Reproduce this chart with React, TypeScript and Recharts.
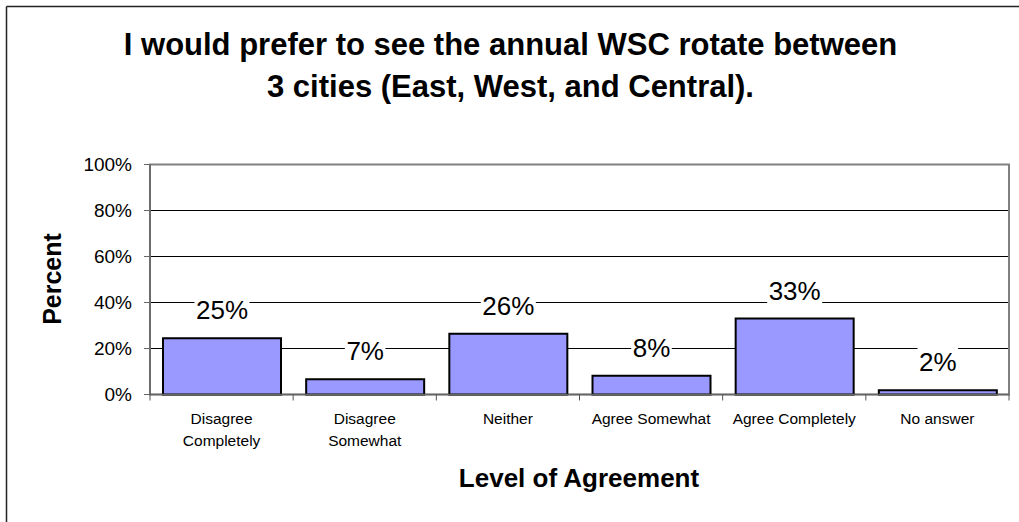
import React from 'react';
import { BarChart, Bar, XAxis, YAxis, CartesianGrid, ReferenceArea, LabelList } from 'recharts';

const categories = ['Disagree\nCompletely', 'Disagree\nSomewhat', 'Neither', 'Agree Somewhat', 'Agree Completely', 'No answer'];
const percentValues = [24.5, 6.6, 26.4, 8.2, 33.0, 1.8];
const yTicks = [0, 20, 40, 60, 80, 100];
const titleLines = ['I would prefer to see the annual WSC rotate between', '3 cities (East, West, and Central).'];
const xTitle = 'Level of Agreement';
const yTitle = 'Percent';

const data = categories.map((name, i) => ({ name, value: percentValues[i] }));

const FONT = 'Liberation Sans, Arial, Helvetica, sans-serif';
const W = 1019;
const H = 522;
const LEFT = 150;
const RIGHT = 10;
const PLOT_W = W - LEFT - RIGHT;
const HALF_BAND = PLOT_W / categories.length / 2;

const CatTick = (props: any) => {
  const { x, y, payload, index } = props;
  const lines = String(payload.value).split('\n');
  return (
    <g>
      <line x1={x - HALF_BAND} x2={x - HALF_BAND} y1={y} y2={y + 6} stroke="#555" strokeWidth={1} />
      {index === categories.length - 1 && (
        <line x1={x + HALF_BAND} x2={x + HALF_BAND} y1={y} y2={y + 6} stroke="#555" strokeWidth={1} />
      )}
      {lines.map((l, i) => (
        <text key={i} x={x} y={y + 29.5 + i * 22} textAnchor="middle" fontSize={15.5} fontFamily={FONT} fill="#000">
          {l}
        </text>
      ))}
    </g>
  );
};

const ValueLabel = (props: any) => {
  const { x, y, width, value } = props;
  const txt = `${Math.round(Number(value))}%`;
  const digits = txt.length - 1;
  const tw = (digits * 0.556 + 0.889) * 26 + 3;
  const cx = Number(x) + Number(width) / 2;
  const base = Number(y) - 19;
  return (
    <g>
      <rect x={cx - tw / 2} y={base - 24} width={tw} height={30} fill="#fff" />
      <text x={cx} y={base} textAnchor="middle" fontSize={26} fontFamily={FONT} fill="#000">
        {txt}
      </text>
    </g>
  );
};

export default function App() {
  return (
    <div style={{ position: 'absolute', left: 0, top: 0, width: W, height: H, background: '#fff', overflow: 'hidden' }}>
      <BarChart width={W} height={H} data={data} margin={{ top: 164.5, right: RIGHT, bottom: 0, left: 0 }}>
        <CartesianGrid vertical={false} stroke="#000" strokeWidth={1} />
        <ReferenceArea y1={0} y2={100} fill="none" stroke="#808080" strokeWidth={2} ifOverflow="visible" />
        <XAxis
          dataKey="name"
          height={127.5}
          interval={0}
          tickLine={false}
          tickSize={0}
          tickMargin={0}
          axisLine={{ stroke: '#666', strokeWidth: 1.5 }}
          tick={<CatTick />}
        />
        <YAxis
          domain={[0, 100]}
          ticks={yTicks}
          width={LEFT}
          tickFormatter={(v: number) => `${v}%`}
          tick={{ fontSize: 19, fill: '#000', fontFamily: FONT }}
          tickSize={6}
          tickMargin={12}
          axisLine={{ stroke: '#666', strokeWidth: 1.5 }}
          tickLine={{ stroke: '#666' }}
        />
        <Bar dataKey="value" fill="#9999FF" stroke="#000" strokeWidth={2} barSize={118} isAnimationActive={false}>
          <LabelList dataKey="value" content={<ValueLabel />} />
        </Bar>
      </BarChart>
      <svg width={W} height={H} style={{ position: 'absolute', left: 0, top: 0, pointerEvents: 'none' }}>
        <line x1={6.5} y1={6.5} x2={W} y2={6.5} stroke="#222" strokeWidth={1.5} />
        <line x1={6.5} y1={6.5} x2={6.5} y2={H} stroke="#222" strokeWidth={1.5} />
        <text x={510.5} y={55} textAnchor="middle" fontSize={31} fontWeight="bold" fontFamily={FONT} fill="#000">
          {titleLines[0]}
        </text>
        <text x={510.5} y={97} textAnchor="middle" fontSize={31} fontWeight="bold" fontFamily={FONT} fill="#000">
          {titleLines[1]}
        </text>
        <text x={579} y={487} textAnchor="middle" fontSize={26} fontWeight="bold" fontFamily={FONT} fill="#000">
          {xTitle}
        </text>
        <text
          x={0}
          y={0}
          transform="translate(61,279) rotate(-90)"
          textAnchor="middle"
          fontSize={25}
          fontWeight="bold"
          fontFamily={FONT}
          fill="#000"
        >
          {yTitle}
        </text>
      </svg>
    </div>
  );
}
